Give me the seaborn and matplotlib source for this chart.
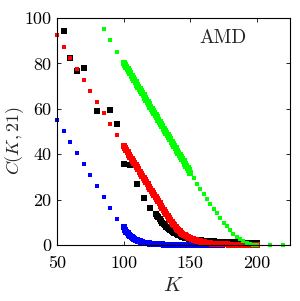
"""
C(K, 21) versus K for the AMD case, four series drawn as square markers.
"""

import matplotlib

matplotlib.use("Agg")
import matplotlib.pyplot as plt
import numpy as np
import seaborn as sns

# ---- data ------------------------------------------------------------------
# sparse part (step 5 in K)
blue_k = [50, 55, 60, 65, 70, 75, 80, 85, 90, 95]
blue_c = [55.3, 50.1, 45.3, 40.5, 35.7, 30.8, 26.0, 21.2, 16.2, 11.5]

red_k = [50, 55, 60, 65, 70, 75, 80, 85, 90, 95]
red_c = [92.4, 87.3, 82.3, 77.5, 72.7, 67.9, 63.0, 58.0, 53.2, 48.4]

black_k = [55, 60, 65, 70, 80, 90, 95, 100, 105, 110, 115, 120]
black_c = [94.3, 82.3, 76.8, 78.2, 59.2, 59.5, 53.4, 35.5, 35.1, 26.8, 20.6, 16.5]

green_k = [85, 90, 95]
green_c = [95.2, 90.2, 85.2]

# dense part (step 1 in K)
blue_dense_start = 100
blue_dense_c = [
    7.8, 6.8, 5.9, 5.1, 4.5, 3.9, 3.4, 3.0, 2.6, 2.3, 2.0, 1.8, 1.6, 1.4, 1.2,
    1.1, 1.0, 0.9, 0.8, 0.7, 0.6, 0.55, 0.5, 0.45, 0.4, 0.36, 0.33, 0.3, 0.27,
    0.24, 0.22, 0.2, 0.18, 0.16, 0.15, 0.14, 0.13, 0.12, 0.11, 0.1, 0.1,
    0.1, 0.1, 0.1, 0.1, 0.1, 0.1, 0.1, 0.1, 0.1, 0.1, 0.1, 0.1, 0.1, 0.1,
    0.1, 0.1, 0.1, 0.1, 0.1, 0.1, 0.1, 0.1, 0.1, 0.1, 0.1, 0.1, 0.1, 0.1,
    0.1, 0.1, 0.1, 0.1, 0.1, 0.1,
]

red_dense_start = 100
red_dense_c = [
    43.6, 42.7, 41.7, 40.8, 39.8, 38.9, 37.9, 37.0, 36.1, 35.1,
    34.2, 33.3, 32.3, 31.4, 30.4, 29.5, 28.6, 27.6, 26.7, 25.7,
    24.8, 23.9, 22.9, 22.0, 21.0, 20.1, 19.2, 18.3, 17.4, 16.5,
    15.6, 14.7, 13.8, 12.8, 11.9, 11.0, 10.2, 9.4, 8.6, 7.9,
    7.2, 6.6, 6.0, 5.5, 5.0, 4.6, 4.2, 3.8, 3.5, 3.2,
    2.9, 2.7, 2.5, 2.3, 2.1, 1.9, 1.8, 1.6, 1.5, 1.3,
    1.2, 1.1, 1.0, 0.9, 0.8, 0.7, 0.65, 0.6, 0.5, 0.45,
    0.4, 0.38, 0.36, 0.34, 0.32, 0.3, 0.28, 0.26, 0.24, 0.22,
    0.2, 0.19, 0.18, 0.17, 0.16, 0.15, 0.14, 0.13, 0.12, 0.11,
    0.1, 0.1, 0.1, 0.1, 0.1, 0.1, 0.1, 0.1, 0.1, 0.1, 0.1,
]

black_dense_start = 124
black_dense_c = [
    13.8, 13.0, 12.2, 11.3, 10.6, 9.9, 9.3, 8.7, 8.1, 7.6,
    7.1, 6.6, 6.2, 5.8, 5.4, 5.1, 4.8, 4.5, 4.2, 4.0,
    3.7, 3.5, 3.3, 3.1, 3.0, 2.8, 2.7, 2.6, 2.5, 2.4,
    2.3, 2.2, 2.1, 2.0, 2.0, 1.9, 1.9,
    1.8, 1.8, 1.7, 1.7, 1.7, 1.6, 1.6, 1.6, 1.5, 1.5,
    1.5, 1.5, 1.4, 1.4, 1.4, 1.4, 1.3, 1.3, 1.3, 1.3,
    1.2, 1.2, 1.2, 1.2, 1.1, 1.1, 1.1, 1.1, 1.0, 1.0,
    1.0, 1.0, 0.9, 0.9, 0.9, 0.9, 0.8, 0.8, 0.8, 0.8,
]

green_dense_start = 100
green_dense_c = [
    80.4, 79.4, 78.5, 77.5, 76.5, 75.6, 74.6, 73.6, 72.6, 71.7,
    70.7, 69.7, 68.8, 67.8, 66.8, 65.9, 64.9, 63.9, 62.9, 62.0,
    61.0, 60.0, 59.1, 58.1, 57.1, 56.2, 55.2, 54.2, 53.2, 52.3,
    51.3, 50.3, 49.4, 48.4, 47.4, 46.5, 45.5, 44.5, 43.5, 42.6,
    41.6, 40.6, 39.7, 38.7, 37.7, 36.8, 35.8, 34.8, 33.8, 32.9,
    31.9,
]

# green tail (step 2.5 in K, then two points past 200)
green_tail_k = [152.5, 155, 157.5, 160, 162.5, 165, 167.5, 170, 172.5, 175,
                177.5, 180, 182.5, 185, 187.5, 190, 192.5, 195, 197.5, 200,
                210, 220]
green_tail_c = [29.5, 27.0, 24.6, 22.4, 20.2, 18.0, 15.9, 13.9, 11.8, 9.9,
                8.2, 6.4, 5.0, 3.7, 2.5, 1.6, 1.0, 0.5, 0.2, 0.0,
                0.0, 0.0]

x_ticks = [50, 100, 150, 200]
y_ticks = [0, 20, 40, 60, 80, 100]


def dense_k(start, values):
    return np.arange(start, start + len(values))


# ---- style -------------------------------------------------------------------
sns.set_theme(style="ticks")
plt.rcParams.update(
    {
        "font.family": ["cmr10", "DejaVu Serif"],
        "mathtext.fontset": "cm",
        "axes.formatter.use_mathtext": True,
        "axes.linewidth": 0.8,
        "xtick.direction": "in",
        "ytick.direction": "in",
        "xtick.top": True,
        "ytick.right": True,
        "xtick.major.size": 3,
        "ytick.major.size": 3,
        "xtick.major.width": 0.6,
        "ytick.major.width": 0.6,
        "xtick.labelsize": 13,
        "ytick.labelsize": 13,
        "axes.edgecolor": "black",
        "xtick.color": "black",
        "ytick.color": "black",
    }
)

fig = plt.figure(figsize=(3.0, 3.01), dpi=100)
ax = fig.add_axes([0.19, 0.186, 0.777, 0.754])

small = 11    # sparse coloured squares
dense = 14    # dense coloured squares (overlap into a band)
big = 20      # black squares


def squares(k, c, size, color, z):
    sns.scatterplot(x=k, y=c, marker="s", s=size, color=color, linewidth=0,
                    ax=ax, clip_on=False, zorder=z)


# blue
squares(blue_k, blue_c, small, "#0000ff", 3)
squares(dense_k(blue_dense_start, blue_dense_c), blue_dense_c, dense, "#0000ff", 3)

# black
squares(black_k, black_c, big, "black", 4)
squares(dense_k(black_dense_start, black_dense_c), black_dense_c, big, "black", 4)

# red
squares(red_k, red_c, small, "#ff0000", 5)
squares(dense_k(red_dense_start, red_dense_c), red_dense_c, dense, "#ff0000", 5)

# green
squares(green_k, green_c, small, "#00ff00", 6)
squares(dense_k(green_dense_start, green_dense_c), green_dense_c, dense, "#00ff00", 6)
squares(green_tail_k, green_tail_c, small, "#00ff00", 6)

ax.set_xlim(50, 225)
ax.set_ylim(0, 100)
ax.set_xticks(x_ticks)
ax.set_yticks(y_ticks)
ax.set_xticklabels([str(t) for t in x_ticks])
ax.set_yticklabels([str(t) for t in y_ticks])
ax.tick_params(axis="x", pad=8)
ax.tick_params(axis="y", pad=4)

ax.set_xlabel(r"$K$", fontsize=15, labelpad=4)
ax.set_ylabel(r"$C(K,21)$", fontsize=13)
ax.yaxis.set_label_coords(-0.135, 0.46)

ax.text(0.71, 0.91, "AMD", transform=ax.transAxes, fontsize=14,
        ha="center", va="center")

for side in ["top", "right", "left", "bottom"]:
    ax.spines[side].set_visible(True)
    ax.spines[side].set_zorder(10)

fig.savefig("out.png", dpi=100)
